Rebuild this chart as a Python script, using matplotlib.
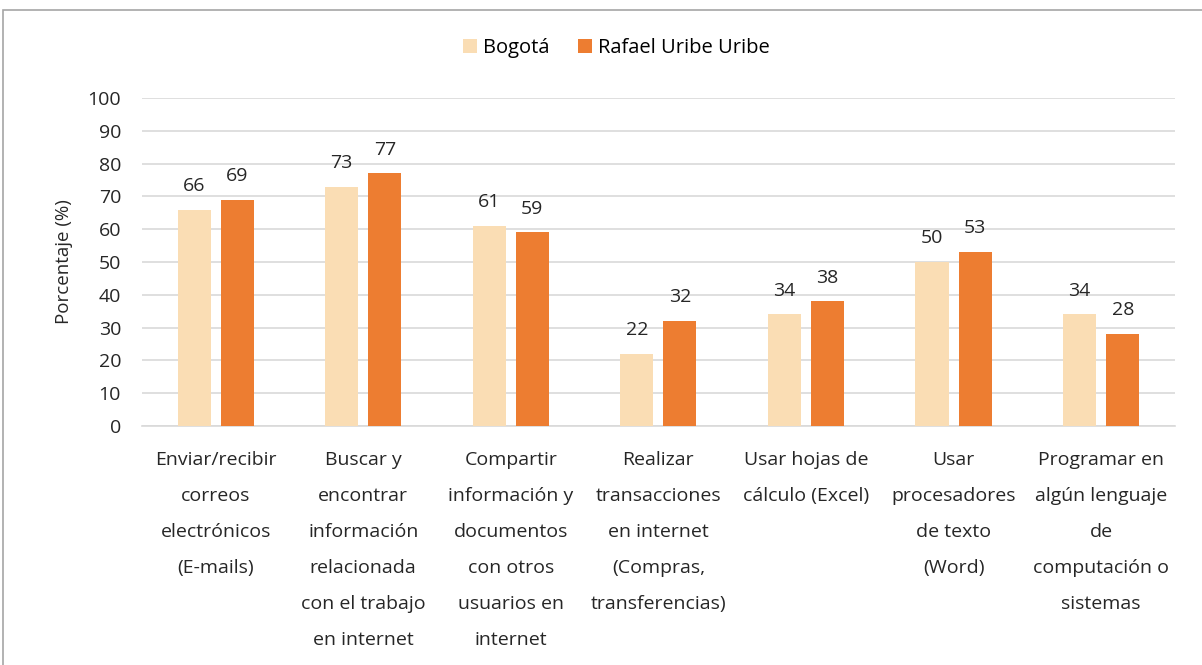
import numpy as np
import matplotlib
matplotlib.use("Agg")
import matplotlib.pyplot as plt
from matplotlib.patches import Rectangle

# Data
categorias = [
    "Enviar/recibir\ncorreos\nelectrónicos\n(E-mails)",
    "Buscar y\nencontrar\ninformación\nrelacionada\ncon el trabajo\nen internet",
    "Compartir\ninformación y\ndocumentos\ncon otros\nusuarios en\ninternet",
    "Realizar\ntransacciones\nen internet\n(Compras,\ntransferencias)",
    "Usar hojas de\ncálculo (Excel)",
    "Usar\nprocesadores\nde texto\n(Word)",
    "Programar en\nalgún lenguaje\nde\ncomputación o\nsistemas",
]
bogota = [66, 73, 61, 22, 34, 50, 34]
rafael = [69, 77, 59, 32, 38, 53, 28]
series_names = ["Bogotá", "Rafael Uribe Uribe"]

plt.rcParams['font.family'] = ['Open Sans', 'DejaVu Sans']

fig = plt.figure(figsize=(12.02, 6.65), dpi=100)
ax = fig.add_axes([0.118, 0.3594, 0.8595, 0.4932])

# outer border of the chart area
fig.patches.append(Rectangle((0.0025, -0.1), 1.1, 1.085, transform=fig.transFigure,
                             fill=False, edgecolor="#A6A6A6", linewidth=1.2))

x = np.arange(len(categorias))
w = 0.224
off = 0.146
b1 = ax.bar(x - off, bogota, w, color="#FADDB4", label=series_names[0], zorder=3)
b2 = ax.bar(x + off, rafael, w, color="#ED7D31", label=series_names[1], zorder=3)

for bars, vals in [(b1, bogota), (b2, rafael)]:
    for r, v in zip(bars, vals):
        ax.text(r.get_x() + r.get_width() / 2, v + 4.5, str(v), ha="center",
                va="bottom", fontsize=14, color="#262626")

ax.set_xlim(-0.5, len(categorias) - 0.5)
ax.set_ylim(0, 100)
ax.set_yticks(range(0, 101, 10))
ax.yaxis.grid(True, color="#D9D9D9", linewidth=1.2, zorder=0)
ax.set_axisbelow(True)
for s in ["top", "right", "left"]:
    ax.spines[s].set_visible(False)
ax.spines["bottom"].set_color("#D9D9D9")
ax.spines["bottom"].set_linewidth(1.2)
ax.tick_params(axis="both", length=0, labelsize=14, colors="#262626")
ax.tick_params(axis="x", pad=18)
ax.tick_params(axis="y", pad=15)
ax.set_xticks(x)
ax.set_xticklabels(categorias, linespacing=2.28, va="top")
ax.set_ylabel("Porcentaje (%)", fontsize=13.5, color="#262626", labelpad=10)

fig.legend(loc="center", bbox_to_anchor=(0.513, 0.928), ncol=2, frameon=False,
           fontsize=14.5, handlelength=0.7, handleheight=0.7, handletextpad=0.3,
           columnspacing=1.4)

fig.savefig("out.png", dpi=100)
